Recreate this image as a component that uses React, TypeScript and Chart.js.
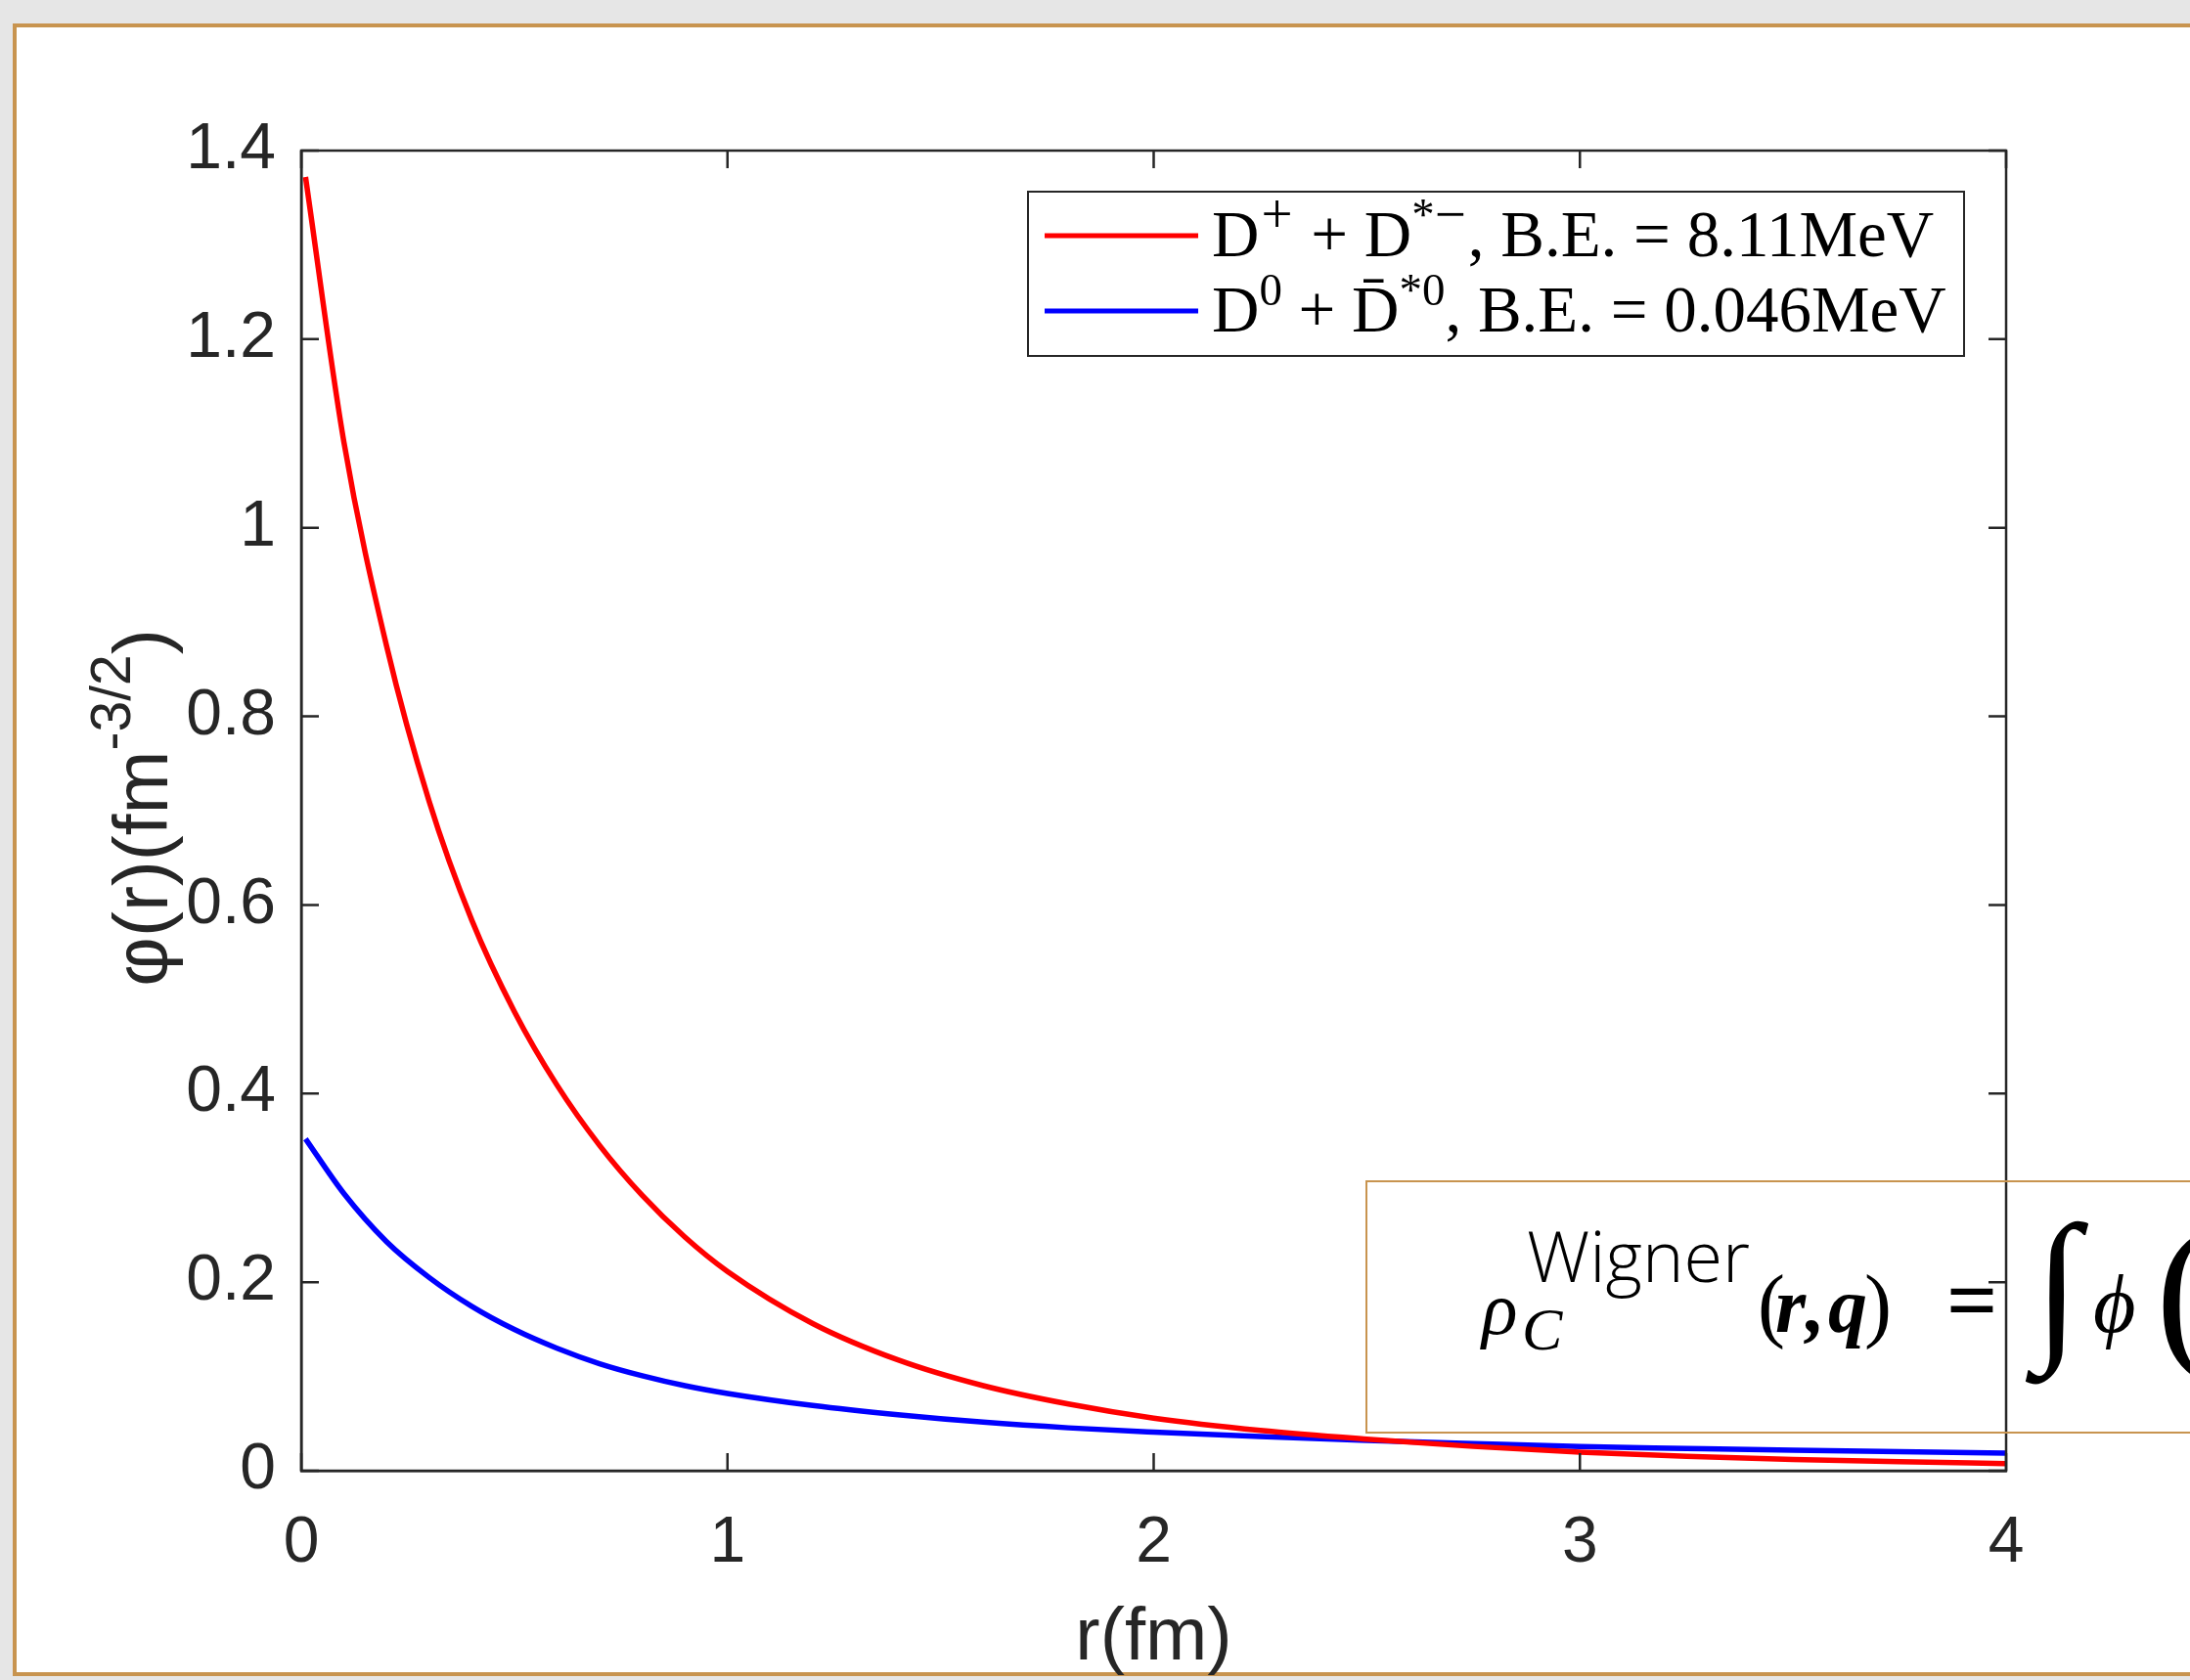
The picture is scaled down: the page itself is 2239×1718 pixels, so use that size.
import React, { useEffect, useRef } from "react";
import { Chart, registerables } from "chart.js";

Chart.register(...registerables);

// ---- data ----
const rRed = [0.01, 0.1, 0.2, 0.3, 0.4, 0.5, 0.6, 0.7, 0.8, 0.9, 1.0, 1.2, 1.4, 1.6, 1.8, 2.0, 2.25, 2.5, 2.75, 3.0, 3.25, 3.5, 3.75, 4.0];
const phiRed = [1.372, 1.091, 0.875, 0.71, 0.584, 0.487, 0.409, 0.345, 0.292, 0.2478, 0.2113, 0.1561, 0.1175, 0.0902, 0.0707, 0.0558, 0.0428, 0.0335, 0.0258, 0.0198, 0.0153, 0.012, 0.0095, 0.0076];
const rBlue = [0.01, 0.1, 0.2, 0.3, 0.4, 0.5, 0.6, 0.7, 0.8, 0.9, 1.0, 1.2, 1.4, 1.6, 1.8, 2.0, 2.25, 2.5, 2.75, 3.0, 3.25, 3.5, 3.75, 4.0];
const phiBlue = [0.352, 0.294, 0.243, 0.205, 0.1744, 0.1498, 0.1299, 0.1135, 0.1007, 0.0902, 0.082, 0.0692, 0.0594, 0.0515, 0.0455, 0.041, 0.0362, 0.0322, 0.0288, 0.0256, 0.0236, 0.0217, 0.0201, 0.0187];

const xTickValues = [0, 1, 2, 3, 4];
const xTickLabels = ["0", "1", "2", "3", "4"];
const yTickValues = [0, 0.2, 0.4, 0.6, 0.8, 1.0, 1.2, 1.4];
const yTickLabels = ["0", "0.2", "0.4", "0.6", "0.8", "1", "1.2", "1.4"];

const xTitle = "r(fm)";
const yTitleMain = "φ(r)(fm";
const yTitleSup = "-3/2";
const yTitleEnd = ")";

const seriesNames = ["D⁺ + D*⁻, B.E. = 8.11MeV", "D⁰ + D̄*⁰, B.E. = 0.046MeV"];

const AXIS = "#262626";
const SANS = "'Liberation Sans', Arial, Helvetica, sans-serif";
const SERIF = "'Liberation Serif', 'Times New Roman', serif";
const TAN = "#C8944F";

type Seg = { t?: string; s?: number; dy?: number; gap?: number };

function drawRich(ctx: CanvasRenderingContext2D, x: number, y: number, segs: Seg[], size: number, family: string) {
  let cx = x;
  for (const seg of segs) {
    if (seg.gap) {
      cx += seg.gap * size;
      continue;
    }
    const sz = size * (seg.s ?? 1);
    ctx.font = `${sz}px ${family}`;
    ctx.fillText(seg.t || "", cx, y + (seg.dy ?? 0) * size);
    cx += ctx.measureText(seg.t || "").width;
  }
  return cx - x;
}

const decorPlugin = {
  id: "decor",
  afterDraw(chart: any) {
    const { ctx, chartArea } = chart;
    const { left, right, top, bottom } = chartArea;
    const xs = chart.scales.x;
    const ys = chart.scales.y;
    ctx.save();
    // axes box + inward ticks
    ctx.strokeStyle = AXIS;
    ctx.lineWidth = 2.5;
    ctx.strokeRect(left, top, right - left, bottom - top);
    const tl = 18;
    ctx.beginPath();
    xTickValues.forEach((v) => {
      const px = xs.getPixelForValue(v);
      ctx.moveTo(px, bottom);
      ctx.lineTo(px, bottom - tl);
      ctx.moveTo(px, top);
      ctx.lineTo(px, top + tl);
    });
    yTickValues.forEach((v) => {
      const py = ys.getPixelForValue(v);
      ctx.moveTo(left, py);
      ctx.lineTo(left + tl, py);
      ctx.moveTo(right, py);
      ctx.lineTo(right - tl, py);
    });
    ctx.stroke();

    // y axis title with superscript
    ctx.fillStyle = AXIS;
    ctx.textBaseline = "alphabetic";
    ctx.textAlign = "left";
    const mainSize = 78;
    const supSize = 57;
    ctx.font = `${mainSize}px ${SANS}`;
    const w1 = ctx.measureText(yTitleMain).width;
    const w3 = ctx.measureText(yTitleEnd).width;
    ctx.font = `${supSize}px ${SANS}`;
    const w2 = ctx.measureText(yTitleSup).width;
    const total = w1 + w2 + w3;
    ctx.save();
    ctx.translate(171, (top + bottom) / 2 - 3);
    ctx.rotate(-Math.PI / 2);
    let lx = -total / 2;
    ctx.font = `${mainSize}px ${SANS}`;
    ctx.fillText(yTitleMain, lx, 0);
    lx += w1;
    ctx.font = `${supSize}px ${SANS}`;
    ctx.fillText(yTitleSup, lx, -38);
    lx += w2;
    ctx.font = `${mainSize}px ${SANS}`;
    ctx.fillText(yTitleEnd, lx, 0);
    ctx.restore();

    // legend
    const lgX = 1051, lgY = 196, lgW = 957, lgH = 168;
    ctx.fillStyle = "#ffffff";
    ctx.fillRect(lgX, lgY, lgW, lgH);
    ctx.strokeStyle = AXIS;
    ctx.lineWidth = 2;
    ctx.strokeRect(lgX, lgY, lgW, lgH);
    const colors = [chart.data.datasets[0].borderColor, chart.data.datasets[1].borderColor];
    const rowsY = [241, 318];
    rowsY.forEach((yy, i) => {
      ctx.strokeStyle = colors[i];
      ctx.lineWidth = 5;
      ctx.beginPath();
      ctx.moveTo(1068, yy);
      ctx.lineTo(1225, yy);
      ctx.stroke();
    });
    ctx.fillStyle = "#000000";
    const lsz = 67;
    const row1: Seg[] = [
      { t: "D" }, { gap: 0.03 }, { t: "+", s: 0.85, dy: -0.36 }, { gap: 0.03 }, { t: " + " }, { t: "D" },
      { t: "*", s: 0.7, dy: -0.4 }, { t: "−", s: 0.85, dy: -0.36 }, { gap: 0.03 },
      { t: ", B.E. = 8.11MeV" },
    ];
    const row2: Seg[] = [
      { t: "D" }, { t: "0", s: 0.7, dy: -0.4 }, { t: " + " }, { t: "D\u0304" }, { t: "*0", s: 0.7, dy: -0.4 },
      { t: ", B.E. = 0.046MeV" },
    ];
    drawRich(ctx, 1239, 262, row1, lsz, SERIF);
    drawRich(ctx, 1239, 339, row2, lsz, SERIF);

    // formula box (cut by the image edge)
    ctx.strokeStyle = TAN;
    ctx.lineWidth = 2;
    ctx.strokeRect(1397, 1208, 1000, 257);
    ctx.fillStyle = "#000000";
    ctx.font = `italic 76px ${SERIF}`;
    ctx.fillText("ρ", 1515, 1364);
    ctx.font = `italic 62px ${SERIF}`;
    ctx.fillText("C", 1556, 1380);
    ctx.font = `300 72px 'Open Sans', 'Noto Sans', sans-serif`;
    ctx.fillText("Wigner", 1561, 1311);
    ctx.font = `84px ${SERIF}`;
    ctx.fillText("(", 1797, 1362);
    ctx.font = `bold italic 80px ${SERIF}`;
    ctx.fillText("r", 1815, 1362);
    ctx.fillText(",", 1846, 1362);
    ctx.fillText("q", 1869, 1362);
    ctx.font = `84px ${SERIF}`;
    ctx.fillText(")", 1906, 1362);
    ctx.font = `bold 92px ${SERIF}`;
    ctx.fillText("=", 1990, 1360);
    ctx.font = `170px ${SERIF}`;
    ctx.fillText("∫", 2080, 1370);
    ctx.font = `italic 84px ${SERIF}`;
    ctx.fillText("ϕ", 2140, 1362);
    ctx.font = `177px ${SERIF}`;
    ctx.fillText("(", 2204, 1379);
    ctx.restore();
  },
};

export default function App() {
  const ref = useRef<HTMLCanvasElement | null>(null);
  useEffect(() => {
    if (!ref.current) return;
    const chart = new Chart(ref.current, {
      type: "line",
      data: {
        datasets: [
          {
            label: seriesNames[0],
            data: rRed.map((r, i) => ({ x: r, y: phiRed[i] })),
            borderColor: "#FF0000",
            backgroundColor: "#FF0000",
          },
          {
            label: seriesNames[1],
            data: rBlue.map((r, i) => ({ x: r, y: phiBlue[i] })),
            borderColor: "#0000FF",
            backgroundColor: "#0000FF",
          },
        ],
      },
      options: {
        animation: false,
        responsive: false,
        maintainAspectRatio: false,
        devicePixelRatio: 1,
        layout: { padding: { top: 154, right: 188, left: 0, bottom: 0 } },
        elements: {
          point: { radius: 0, hoverRadius: 0 },
          line: { borderWidth: 5.5, cubicInterpolationMode: "monotone", fill: false, borderCapStyle: "butt" },
        },
        plugins: {
          legend: { display: false },
          tooltip: { enabled: false },
          title: { display: false },
        },
        scales: {
          x: {
            type: "linear",
            min: 0,
            max: 4,
            afterFit: (s: any) => {
              s.height = 214;
            },
            afterBuildTicks: (s: any) => {
              s.ticks = xTickValues.map((v) => ({ value: v }));
            },
            ticks: {
              autoSkip: false,
              maxRotation: 0,
              padding: 35,
              color: AXIS,
              font: { family: SANS, size: 66 },
              callback: (_v: any, i: number) => xTickLabels[i],
            },
            grid: { display: false, drawTicks: false },
            border: { display: true, color: AXIS, width: 2.5 },
            title: {
              display: true,
              text: xTitle,
              color: AXIS,
              font: { family: SANS, size: 76, lineHeight: 1.1 },
              padding: { top: 0, bottom: 0 },
            },
          },
          y: {
            type: "linear",
            min: 0,
            max: 1.4,
            afterFit: (s: any) => {
              s.width = 308;
            },
            afterBuildTicks: (s: any) => {
              s.ticks = yTickValues.map((v) => ({ value: v }));
            },
            ticks: {
              autoSkip: false,
              padding: 26,
              color: AXIS,
              font: { family: SANS, size: 66 },
              callback: (_v: any, i: number) => yTickLabels[i],
            },
            grid: { display: false, drawTicks: false },
            border: { display: true, color: AXIS, width: 2.5 },
          },
        },
      },
      plugins: [decorPlugin],
    });
    return () => chart.destroy();
  }, []);

  return (
    <div style={{ position: "fixed", left: 0, top: 0, width: 2239, height: 1718, background: "#E6E6E6", overflow: "hidden" }}>
      <div
        style={{
          position: "absolute",
          left: 13,
          top: 24,
          width: 2400,
          height: 1690,
          boxSizing: "border-box",
          border: `4px solid ${TAN}`,
          background: "#ffffff",
        }}
      />
      <canvas ref={ref} width={2239} height={1718} style={{ position: "absolute", left: 0, top: 0, width: 2239, height: 1718 }} />
    </div>
  );
}
